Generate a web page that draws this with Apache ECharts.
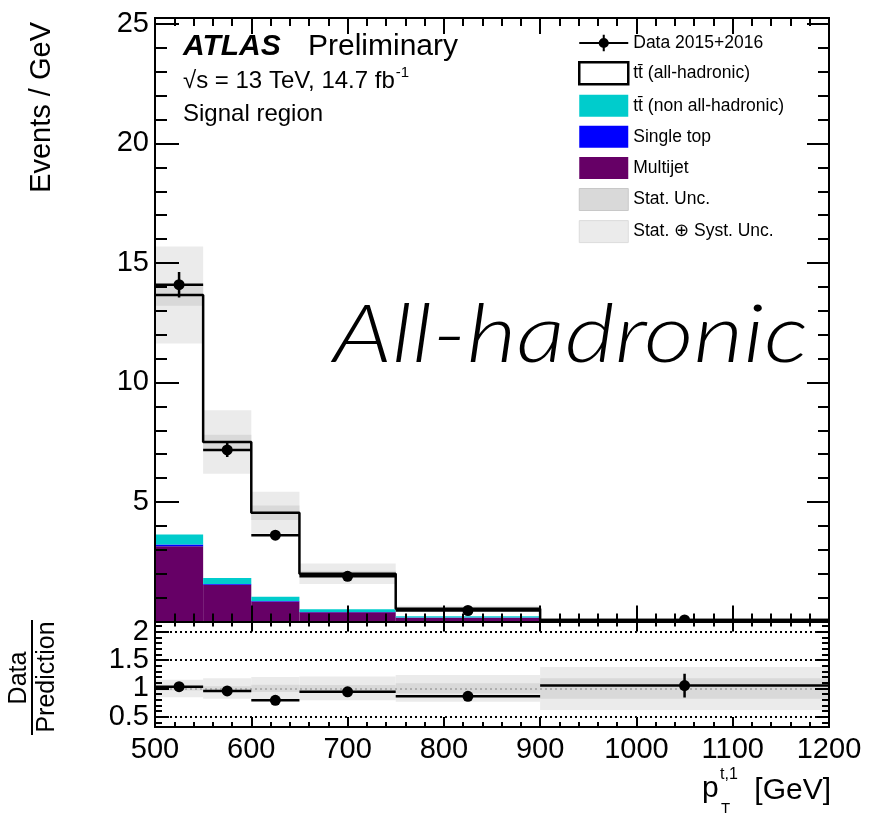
<!DOCTYPE html>
<html><head><meta charset="utf-8">
<script src="https://cdn.jsdelivr.net/npm/echarts@6/dist/echarts.min.js"></script>
<style>html,body{margin:0;padding:0;background:#fff}#c{width:873px;height:815px}</style>
</head><body><div id="c"></div>
<script>
// ---------------- data ----------------
const binEdges = [500, 550, 600, 650, 750, 900, 1200];
const multijet = [3.15, 1.54, 0.84, 0.39, 0.16, 0.02];
const singleTop = [0.07, 0.03, 0.02, 0.01, 0.005, 0.002];
const ttNonAllHad = [0.42, 0.25, 0.18, 0.11, 0.05, 0.01];
const ttAllHad = [10.02, 5.69, 3.51, 1.49, 0.32, 0.03];
const statErr = [0.45, 0.30, 0.30, 0.12, 0.05, 0.01];
const totErr = [2.03, 1.33, 0.88, 0.43, 0.125, 0.023];
const dataValues = [14.09, 7.18, 3.61, 1.89, 0.46, 0.065];
const dataErrors = [0.53, 0.30, 0.20, 0.14, 0.05, 0.015];
const ratioValues = [1.03, 0.955, 0.79, 0.94, 0.86, 1.05];
const ratioErrors = [0.04, 0.04, 0.05, 0.07, 0.08, 0.21];
const ratioStatRel = [0.035, 0.04, 0.065, 0.06, 0.09, 0.18];
const ratioTotRel = [0.155, 0.18, 0.20, 0.21, 0.235, 0.38];
const ratioRefLines = [0.5, 1, 1.5, 2];
const xTickLabels = ['500', '600', '700', '800', '900', '1000', '1100', '1200'];
const mainYTickLabels = ['5', '10', '15', '20', '25'];
const ratioYTickLabels = ['0.5', '1', '1.5', '2'];

// ---------------- build ----------------
const FONT = '"Liberation Sans", Arial, Helvetica, sans-serif';
const chart = echarts.init(document.getElementById('c'), null, {renderer: 'canvas', width: 873, height: 815});
const nb = binEdges.length - 1;
const bins = [...Array(nb).keys()];
const lo = i => binEdges[i], hi = i => binEdges[i + 1];

let cum = bins.map(() => 0);
function stackLayer(vals) {
  const out = bins.map(i => [lo(i), hi(i), cum[i], cum[i] + vals[i]]);
  cum = cum.map((c, i) => c + vals[i]);
  return out;
}
const mjRects = stackLayer(multijet);
const stRects = stackLayer(singleTop);
const ttnRects = stackLayer(ttNonAllHad);
const total = bins.map(i => cum[i] + ttAllHad[i]);
const stepData = bins.map(i => [lo(i), total[i]]).concat([[binEdges[nb], total[nb - 1]]]);
const totBand = bins.map(i => [lo(i), hi(i), total[i] - totErr[i], total[i] + totErr[i]]);
const statBand = bins.map(i => [lo(i), hi(i), total[i] - statErr[i], total[i] + statErr[i]]);
const rTotBand = bins.map(i => [lo(i), hi(i), 1 - ratioTotRel[i], 1 + ratioTotRel[i]]);
const rStatBand = bins.map(i => [lo(i), hi(i), 1 - ratioStatRel[i], 1 + ratioStatRel[i]]);
const dataPts = bins.map(i => [lo(i), hi(i), (lo(i) + hi(i)) / 2, dataValues[i], dataErrors[i]]);
const ratioPts = bins.map(i => [lo(i), hi(i), (lo(i) + hi(i)) / 2, ratioValues[i], ratioErrors[i]]);

function rectItem(params, api) {
  const p0 = api.coord([api.value(0), api.value(3)]);
  const p1 = api.coord([api.value(1), api.value(2)]);
  return {type: 'rect', shape: {x: p0[0], y: p0[1], width: p1[0] - p0[0], height: p1[1] - p0[1]},
    style: {fill: api.visual('color')}};
}
function pointItem(params, api) {
  const y = api.value(3), e = api.value(4), xc = api.value(2);
  const pL = api.coord([api.value(0), y]), pR = api.coord([api.value(1), y]);
  const pc = api.coord([xc, y]), pt = api.coord([xc, y + e]), pb = api.coord([xc, y - e]);
  return {type: 'group', children: [
    {type: 'line', shape: {x1: pL[0], y1: pL[1], x2: pR[0], y2: pR[1]}, style: {stroke: '#000', lineWidth: 2.5}},
    {type: 'line', shape: {x1: pt[0], y1: pt[1], x2: pb[0], y2: pb[1]}, style: {stroke: '#000', lineWidth: 2.5}},
    {type: 'circle', shape: {cx: pc[0], cy: pc[1], r: 5.5}, style: {fill: '#000'}}
  ]};
}
function rectSeries(name, data, color, xi, yi, z) {
  return {type: 'custom', name, data, renderItem: rectItem, clip: true, xAxisIndex: xi, yAxisIndex: yi, z,
    itemStyle: {color}, encode: {x: [0, 1], y: [2, 3]}, silent: true};
}

const tickLine = {color: '#000', width: 2};
function xAx(grid, pos, majLen, minLen, labels) {
  return {type: 'value', gridIndex: grid, position: pos, min: 500, max: 1200, interval: 100, z: 10,
    axisLine: {show: true, onZero: false, lineStyle: tickLine},
    axisTick: {show: true, inside: true, length: majLen, lineStyle: tickLine},
    minorTick: {show: true, splitNumber: 5, length: minLen, lineStyle: tickLine},
    splitLine: {show: false}, minorSplitLine: {show: false},
    axisLabel: labels ? {show: true, fontSize: 29, color: '#000', fontFamily: FONT, margin: 8,
      formatter: v => { const s = String(Math.round(v)); return xTickLabels.includes(s) ? s : ''; }} : {show: false}
  };
}
function yAx(grid, pos, min, max, opt, tickLen, labels) {
  return Object.assign({type: 'value', gridIndex: grid, position: pos, min, max, z: 10,
    axisLine: {show: true, onZero: false, lineStyle: tickLine},
    axisTick: {show: true, inside: true, length: tickLen, lineStyle: tickLine},
    splitLine: {show: false},
    axisLabel: labels ? {show: true, fontSize: 29, color: '#000', fontFamily: FONT, margin: 6,
      formatter: v => { const s = String(+(+v).toFixed(2)); return labels.includes(s) ? s : ''; }} : {show: false}
  }, opt);
}
const MAINMAX = 25.25, RMIN = 0.32, RMAX = 2.18;

const option = {
  animation: false,
  backgroundColor: '#fff',
  grid: [
    {left: 155, top: 18, width: 674, height: 603.5},
    {left: 155, top: 621.5, width: 674, height: 105.5}
  ],
  xAxis: [
    xAx(0, 'bottom', 16, 8, false),
    xAx(0, 'top', 16, 8, false),
    xAx(1, 'bottom', 10, 5, true),
    xAx(1, 'top', 10, 5, false)
  ],
  yAxis: [
    yAx(0, 'left', 0, MAINMAX, {interval: 5}, 24, mainYTickLabels),
    yAx(0, 'left', 0, MAINMAX, {interval: 1}, 12, null),
    yAx(0, 'right', 0, MAINMAX, {interval: 5}, 22, null),
    yAx(0, 'right', 0, MAINMAX, {interval: 1}, 11, null),
    yAx(1, 'left', RMIN, RMAX, {splitNumber: 4}, 14, ratioYTickLabels),
    yAx(1, 'left', RMIN, RMAX, {splitNumber: 19}, 7, null),
    yAx(1, 'right', RMIN, RMAX, {splitNumber: 4}, 14, null),
    yAx(1, 'right', RMIN, RMAX, {splitNumber: 19}, 7, null)
  ],
  legend: {
    orient: 'vertical', left: 573, top: 29, itemWidth: 49, itemHeight: 22, itemGap: 9.1,
    selectedMode: false,
    textStyle: {fontSize: 17.5, color: '#000', fontFamily: FONT},
    data: [
      {name: 'Data 2015+2016', icon: 'path://M0,10L48,10L48,12L0,12Z M29,11A5,5 0 1,1 19,11A5,5 0 1,1 29,11Z M23,3L25,3L25,19L23,19Z', itemStyle: {color: '#000'}},
      {name: 'tt\u0304 (all-hadronic)', icon: 'rect', itemStyle: {color: '#fff', borderColor: '#000', borderWidth: 2.5}},
      {name: 'tt\u0304 (non all-hadronic)', icon: 'rect'},
      {name: 'Single top', icon: 'rect'},
      {name: 'Multijet', icon: 'rect'},
      {name: 'Stat. Unc.', icon: 'rect', itemStyle: {color: '#d9d9d9', borderColor: '#c8c8c8', borderWidth: 1}},
      {name: 'Stat. \u2295 Syst. Unc.', icon: 'rect', itemStyle: {color: '#ebebeb', borderColor: '#dcdcdc', borderWidth: 1}}
    ]
  },
  series: [
    rectSeries('Multijet', mjRects, '#660066', 0, 0, 2),
    rectSeries('Single top', stRects, '#0000ff', 0, 0, 2),
    rectSeries('tt\u0304 (non all-hadronic)', ttnRects, '#00cccc', 0, 0, 2),
    rectSeries('Stat. \u2295 Syst. Unc.', totBand, '#ebebeb', 0, 0, 3),
    rectSeries('Stat. Unc.', statBand, '#d9d9d9', 0, 0, 3),
    {type: 'line', name: 'tt\u0304 (all-hadronic)', data: stepData, step: 'end', xAxisIndex: 0, yAxisIndex: 0,
      symbol: 'none', z: 4, lineStyle: {color: '#000', width: 2.5}, itemStyle: {color: '#000'}, silent: true},
    {type: 'custom', name: 'Data 2015+2016', data: dataPts, renderItem: pointItem, clip: true,
      xAxisIndex: 0, yAxisIndex: 0, z: 6, itemStyle: {color: '#000'}, encode: {x: [0, 1, 2], y: [3]}, silent: true},
    // ratio panel
    rectSeries('Stat. \u2295 Syst. Unc.', rTotBand, '#ebebeb', 2, 4, 3),
    rectSeries('Stat. Unc.', rStatBand, '#d9d9d9', 2, 4, 3),
    {type: 'line', name: 'refLines', data: [], xAxisIndex: 2, yAxisIndex: 4, z: 4, silent: true,
      markLine: {silent: true, symbol: 'none', label: {show: false}, animation: false,
        data: ratioRefLines.map(v => ({yAxis: v, lineStyle: {color: v === 1 ? '#a0a0a0' : '#000', type: [2, 3], width: v === 1 ? 1.5 : 2}}))}},
    {type: 'custom', name: 'Data 2015+2016', data: ratioPts, renderItem: pointItem, clip: true,
      xAxisIndex: 2, yAxisIndex: 4, z: 6, itemStyle: {color: '#000'}, encode: {x: [0, 1, 2], y: [3]}, silent: true}
  ]
};

// text measurement helper for manual text layout
const mctx = document.createElement('canvas').getContext('2d');
function tw(txt, font) { mctx.font = font; return mctx.measureText(txt).width; }

const sqrtTxt = '\u221As = 13 TeV, 14.7 fb';
const sqrtW = tw(sqrtTxt, '24px ' + FONT);
const scriptTxt = 'All-hadronic';
const scriptFont = 'italic 300 80px Lato, "DejaVu Sans", sans-serif';
const scriptW = tw(scriptTxt, scriptFont);

option.graphic = [
  {type: 'text', x: 183, y: 47, style: {text: 'ATLAS', font: 'italic bold 30px ' + FONT, fill: '#000', verticalAlign: 'middle'}},
  {type: 'text', x: 308, y: 47, style: {text: 'Preliminary', font: '30px ' + FONT, fill: '#000', verticalAlign: 'middle'}},
  {type: 'text', x: 183, y: 81, style: {text: sqrtTxt, font: '24px ' + FONT, fill: '#000', verticalAlign: 'middle'}},
  {type: 'text', x: 183 + sqrtW + 1, y: 73, style: {text: '-1', font: '15px ' + FONT, fill: '#000', verticalAlign: 'middle'}},
  {type: 'text', x: 183, y: 114, style: {text: 'Signal region', font: '24px ' + FONT, fill: '#000', verticalAlign: 'middle'}},
  {type: 'text', x: 333, y: 336, scaleX: 475 / scriptW, style: {text: scriptTxt, font: scriptFont, fill: '#000', verticalAlign: 'middle'}},
  {type: 'text', x: 42, y: 22, rotation: Math.PI / 2, style: {text: 'Events / GeV', font: '29px ' + FONT, fill: '#000', align: 'right', verticalAlign: 'middle'}},
  {type: 'text', x: 19, y: 678, rotation: Math.PI / 2, style: {text: 'Data', font: '25px ' + FONT, fill: '#000', align: 'center', verticalAlign: 'middle'}},
  {type: 'line', shape: {x1: 32, y1: 620, x2: 32, y2: 735}, style: {stroke: '#000', lineWidth: 2}},
  {type: 'text', x: 47, y: 677, rotation: Math.PI / 2, style: {text: 'Prediction', font: '25px ' + FONT, fill: '#000', align: 'center', verticalAlign: 'middle'}},
  {type: 'text', x: 702, y: 789, style: {text: 'p', font: '30px ' + FONT, fill: '#000', verticalAlign: 'middle'}},
  {type: 'text', x: 720, y: 775, style: {text: 't,1', font: '16px ' + FONT, fill: '#000', verticalAlign: 'middle'}},
  {type: 'text', x: 721, y: 809, style: {text: 'T', font: '15px ' + FONT, fill: '#000', verticalAlign: 'middle'}},
  {type: 'text', x: 831, y: 791, style: {text: '[GeV]', font: '30px ' + FONT, fill: '#000', align: 'right', verticalAlign: 'middle'}}
];

chart.setOption(option);
</script>
</body></html>
